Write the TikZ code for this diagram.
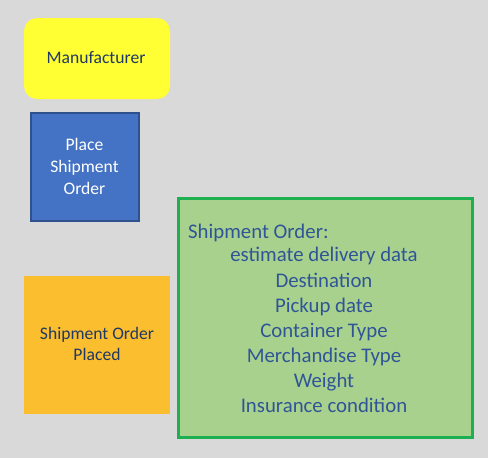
\documentclass[tikz,border=0pt]{standalone}
\usepackage{fontspec}
\setmainfont{Carlito}
\definecolor{bg}{HTML}{D9D9D9}
\definecolor{yel}{HTML}{FFFF33}
\definecolor{blu}{HTML}{4472C4}
\definecolor{bluedge}{HTML}{2F528F}
\definecolor{org}{HTML}{FBBE2E}
\definecolor{grn}{HTML}{A9D18E}
\definecolor{grnedge}{HTML}{1EB050}
\definecolor{navy}{HTML}{203864}
\definecolor{txtblue}{HTML}{2F5597}
\begin{document}
\begin{tikzpicture}[x=1pt,y=-1pt,
  boxtext/.style={font=\fontsize{17.6}{21.6}\selectfont, align=center, inner sep=0pt},
  listline/.style={font=\fontsize{20.8}{25}\selectfont, text=txtblue, inner sep=0pt, text height=0.64em, text depth=0pt}]
\fill[bg] (0,0) rectangle (488,458);
\useasboundingbox (0,0) rectangle (488,458);
% Manufacturer
\node[fill=yel, rounded corners=13pt, minimum width=146pt, minimum height=81pt, inner sep=0pt] (man) at (97,58.5) {};
\node[boxtext, text=navy] (mantext) at (96,57.5) {Manufacturer};
% Place Shipment Order
\node[fill=blu, draw=bluedge, line width=2pt, minimum width=108pt, minimum height=108pt, inner sep=0pt] (pso) at (84.5,166.5) {};
\node[boxtext, text=white] (psotext) at (pso.center) {Place\\Shipment\\Order};
% Shipment Order Placed
\node[fill=org, minimum width=146pt, minimum height=138pt, inner sep=0pt] (sop) at (97,345) {};
\node[boxtext, text=navy] (soptext) at (97,344) {Shipment Order\\Placed};
% Green box
\node[fill=grn, draw=grnedge, line width=2.2pt, minimum width=294pt, minimum height=239pt, inner sep=0pt] (so) at (325.5,318) {};
\node[listline, anchor=west] (l0) at (188,235) {Shipment Order:};
\node[listline] (l1) at (324,258) {estimate delivery data};
\node[listline] (l2) at (324,284) {Destination};
\node[listline] (l3) at (324,309) {Pickup date};
\node[listline] (l4) at (324,334) {Container Type};
\node[listline] (l5) at (324,359.5) {Merchandise Type};
\node[listline] (l6) at (324,384) {Weight};
\node[listline] (l7) at (324,409.5) {Insurance condition};
\end{tikzpicture}
\end{document}
